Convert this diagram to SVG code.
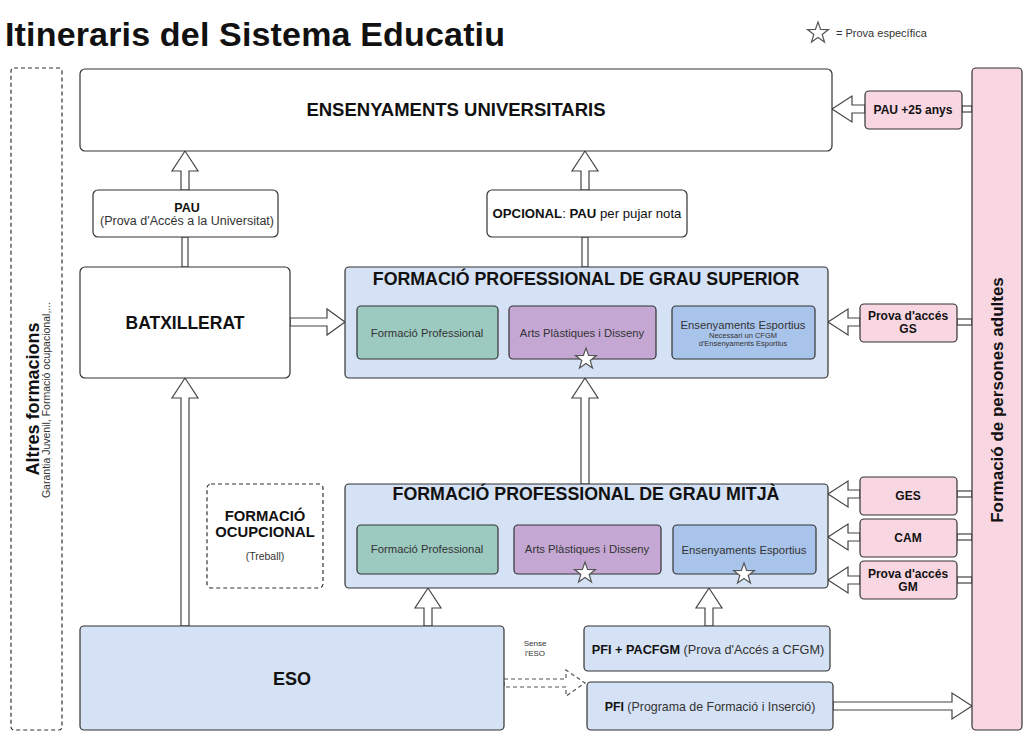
<svg xmlns="http://www.w3.org/2000/svg" width="1024" height="732" viewBox="0 0 1024 732">
<defs>
<style>
text{font-family:"Liberation Sans",Arial,sans-serif;fill:#111}
.box{stroke:#333;stroke-width:1.2}
.w{fill:#fff}
.lb{fill:#d5e1f4}
.gr{fill:#9ccac1}
.pu{fill:#c4a8d3}
.bl{fill:#a9c4eb}
.pk{fill:#f8d7e2}
.dash{fill:#fff;stroke:#333;stroke-width:1.2;stroke-dasharray:4 3}
.arr{fill:#fff;stroke:#444;stroke-width:1.2}
.star{fill:#fff;stroke:#555;stroke-width:1.2}
.b{font-weight:bold}
.c{text-anchor:middle}
.g{fill:#333}
</style>
<polygon id="st" points="0,-11 2.6,-3.6 10.5,-3.4 4.2,1.4 6.5,9 0,4.5 -6.5,9 -4.2,1.4 -10.5,-3.4 -2.6,-3.6"/>
</defs>
<rect width="1024" height="732" fill="#fff"/>
<text x="5" y="46" font-size="34" class="b" textLength="500">Itineraris del Sistema Educatiu</text>
<use href="#st" x="818" y="33" class="star"/>
<text x="836" y="37" font-size="11" class="g">= Prova específica</text>

<g id="connectors">
<polygon class="arr" points="181,190 181,171 172,171 185,151 198,171 189,171 189,190"/>
<polygon class="arr" points="581,190 581,171 572,171 585,151 598,171 589,171 589,190"/>
<rect class="arr" x="182" y="237" width="6" height="30"/>
<rect class="arr" x="582" y="237" width="6" height="30"/>
<polygon class="arr" points="581,484 581,398 572,398 585,378 598,398 589,398 589,484"/>
<polygon class="arr" points="181,626 181,398 172,398 185,378 198,398 189,398 189,626"/>
<polygon class="arr" points="424,626 424,608 415,608 428,588 441,608 432,608 432,626"/>
<polygon class="arr" points="705,626 705,608 696,608 709,588 722,608 713,608 713,626"/>
<polygon class="arr" points="290,318 327,318 327,309 345,322 327,335 327,326 290,326"/>
<polygon class="arr" points="865,105 852,105 852,96 832,109 852,122 852,113 865,113"/>
<polygon class="arr" points="860,318 848,318 848,309 828,322 848,335 848,326 860,326"/>
<polygon class="arr" points="860,490 848,490 848,481 828,494 848,507 848,498 860,498"/>
<polygon class="arr" points="860,533 848,533 848,524 828,537 848,550 848,541 860,541"/>
<polygon class="arr" points="860,576 848,576 848,567 828,580 848,593 848,584 860,584"/>
<rect class="arr" x="962" y="106" width="10" height="6"/>
<rect class="arr" x="957" y="319" width="15" height="6"/>
<rect class="arr" x="957" y="491" width="15" height="6"/>
<rect class="arr" x="957" y="534" width="15" height="6"/>
<rect class="arr" x="957" y="577" width="15" height="6"/>
<polygon class="arr" points="833,702 952,702 952,693 972,706 952,719 952,710 833,710"/>
<polygon points="504,679 566,679 566,670 585,683 566,696 566,687 504,687" fill="#fff" stroke="#555" stroke-width="1.2" stroke-dasharray="4 3"/>
<text x="535" y="646" font-size="8" class="c g">Sense</text>
<text x="535" y="656" font-size="8" class="c g">l'ESO</text>
</g>

<g id="altres">
<rect class="dash" x="11" y="68" width="51" height="662" rx="3"/>
<text transform="translate(39,399) rotate(-90)" font-size="18" class="b c">Altres formacions</text>
<text transform="translate(50,400) rotate(-90)" font-size="10.5" class="c g">Garantia Juvenil, Formació ocupacional,...</text>
</g>

<g id="universitat">
<rect class="box w" x="80" y="69" width="752" height="82" rx="5"/>
<text x="456" y="116" font-size="18.5" class="b c">ENSENYAMENTS UNIVERSITARIS</text>
</g>

<g id="pau">
<rect class="box w" x="93" y="190" width="185" height="47" rx="5"/>
<text x="187" y="212" font-size="12.5" class="b c">PAU</text>
<text x="187" y="225" font-size="12.5" class="c g">(Prova d'Accés a la Universitat)</text>
</g>

<g id="opcional">
<rect class="box w" x="487" y="190" width="200" height="47" rx="5"/>
<text x="587" y="218" font-size="13.2" class="c"><tspan class="b">OPCIONAL</tspan>: <tspan class="b">PAU</tspan> per pujar nota</text>
</g>

<g id="batxillerat">
<rect class="box w" x="80" y="267" width="210" height="111" rx="5"/>
<text x="185" y="329" font-size="17.5" class="b c">BATXILLERAT</text>
</g>

<g id="fpgs">
<rect class="box lb" x="345" y="267" width="483" height="111" rx="4"/>
<text x="586" y="285" font-size="17.8" class="b c">FORMACIÓ PROFESSIONAL DE GRAU SUPERIOR</text>
<rect class="box gr" x="357" y="306" width="141" height="53" rx="4"/>
<text x="427" y="337" font-size="11.3" class="c g">Formació Professional</text>
<rect class="box pu" x="509" y="306" width="147" height="53" rx="4"/>
<text x="582" y="337" font-size="11.3" class="c g">Arts Plàstiques i Disseny</text>
<use href="#st" x="586" y="359" class="star"/>
<rect class="box bl" x="672" y="306" width="143" height="53" rx="4"/>
<text x="743" y="329" font-size="11.3" class="c g">Ensenyaments Esportius</text>
<text x="743" y="338" font-size="7.5" class="c g">Necessari un CFGM</text>
<text x="743" y="346" font-size="7.5" class="c g">d'Ensenyaments Esportius</text>
</g>

<g id="ocupacional">
<rect class="dash" x="207" y="484" width="116" height="104" rx="4"/>
<text x="265" y="521" font-size="14.8" class="b c">FORMACIÓ</text>
<text x="265" y="537" font-size="14.8" class="b c">OCUPCIONAL</text>
<text x="265" y="560" font-size="10.5" class="c g">(Treball)</text>
</g>

<g id="fpgm">
<rect class="box lb" x="345" y="484" width="483" height="104" rx="4"/>
<text x="586" y="500" font-size="17.8" class="b c">FORMACIÓ PROFESSIONAL DE GRAU MITJÀ</text>
<rect class="box gr" x="357" y="525" width="141" height="49" rx="4"/>
<text x="427" y="553" font-size="11.3" class="c g">Formació Professional</text>
<rect class="box pu" x="514" y="525" width="147" height="49" rx="4"/>
<text x="587" y="553" font-size="11.3" class="c g">Arts Plàstiques i Disseny</text>
<use href="#st" x="585" y="573" class="star"/>
<rect class="box bl" x="673" y="525" width="143" height="49" rx="4"/>
<text x="744" y="554" font-size="11.3" class="c g">Ensenyaments Esportius</text>
<use href="#st" x="744" y="574" class="star"/>
</g>

<g id="eso">
<rect class="box lb" x="80" y="626" width="424" height="104" rx="4"/>
<text x="292" y="685" font-size="18" class="b c">ESO</text>
</g>

<g id="pfi-pacfgm">
<rect class="box lb" x="584" y="626" width="246" height="45" rx="4"/>
<text x="708" y="654" font-size="12.7" class="c g"><tspan class="b" fill="#111">PFI + PACFGM</tspan> (Prova d'Accés a CFGM)</text>
</g>

<g id="pfi">
<rect class="box lb" x="587" y="682" width="246" height="48" rx="4"/>
<text x="710" y="711" font-size="12.4" class="c g"><tspan class="b" fill="#111">PFI</tspan> (Programa de Formació i Inserció)</text>
</g>

<g id="adults">
<rect class="box pk" x="972" y="68" width="50" height="662" rx="4"/>
<text transform="translate(1003,400) rotate(-90)" font-size="17" class="b c">Formació de persones adultes</text>
</g>

<g id="pau25">
<rect class="box pk" x="865" y="91" width="97" height="38" rx="4"/>
<text x="913" y="114" font-size="12" class="b c">PAU +25 anys</text>
</g>
<g id="prova-gs">
<rect class="box pk" x="860" y="304" width="97" height="38" rx="4"/>
<text x="908" y="320" font-size="12" class="b c">Prova d'accés</text>
<text x="908" y="333" font-size="12" class="b c">GS</text>
</g>
<g id="ges">
<rect class="box pk" x="860" y="477" width="97" height="38" rx="4"/>
<text x="908" y="500" font-size="12" class="b c">GES</text>
</g>
<g id="cam">
<rect class="box pk" x="860" y="519" width="97" height="38" rx="4"/>
<text x="908" y="542" font-size="12" class="b c">CAM</text>
</g>
<g id="prova-gm">
<rect class="box pk" x="860" y="561" width="97" height="38" rx="4"/>
<text x="908" y="578" font-size="12" class="b c">Prova d'accés</text>
<text x="908" y="591" font-size="12" class="b c">GM</text>
</g>
</svg>
